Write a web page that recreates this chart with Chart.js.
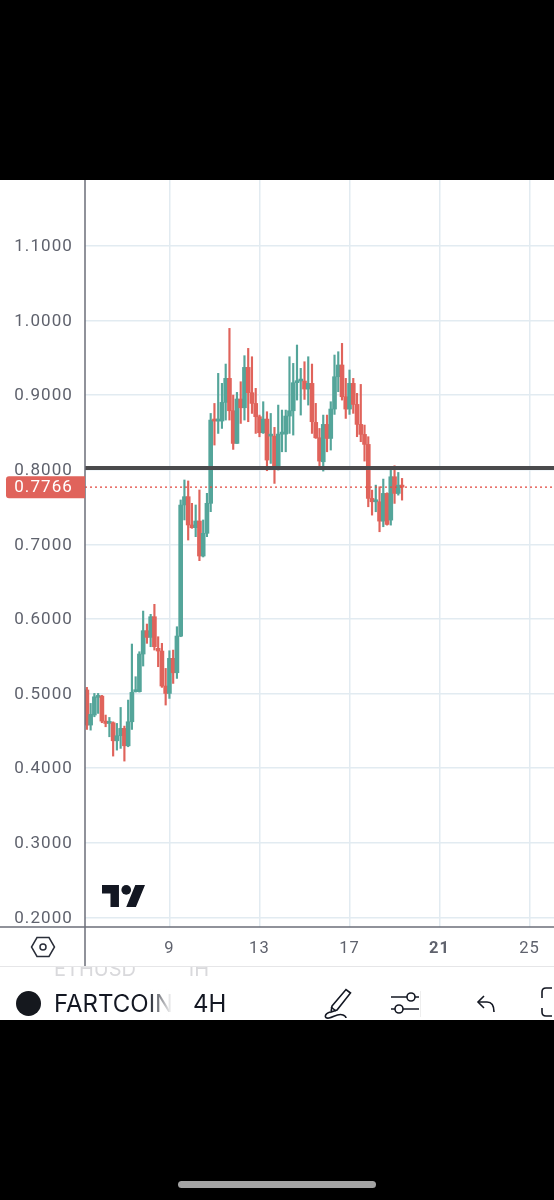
<!DOCTYPE html>
<html>
<head>
<meta charset="utf-8">
<title>FARTCOIN 4H</title>
<script src="https://cdn.jsdelivr.net/npm/chart.js@4"></script>
<style>
html, body { margin: 0; padding: 0; background: #000; }
body { width: 554px; height: 1200px; position: relative; overflow: hidden; font-family: Inter, sans-serif; }
#panel { position: absolute; left: 0; top: 180px; width: 554px; height: 840px; background: #fff; overflow: hidden; }
#chart { position: absolute; left: 0; top: 0; }
#logo { position: absolute; left: 102px; top: 705px; }
#gear { position: absolute; left: 30px; top: 754px; }
#sep { position: absolute; left: 0; top: 786px; width: 554px; height: 1px; background: #e6e6e8; }
#ghost { position: absolute; left: 0; top: 787px; width: 554px; height: 11px; overflow: hidden; color: #d9d9dc; font-size: 20px; line-height: 20px; }
#ghost span { position: absolute; top: -8px; }
.bar-text { position: absolute; top: 811px; font-size: 24px; line-height: 26px; color: #131722; white-space: nowrap; }
#fade { position: absolute; left: 148px; top: 808px; width: 24px; height: 30px; background: linear-gradient(to right, rgba(255,255,255,0), #fff); }
#coin { position: absolute; left: 16px; top: 811px; width: 25px; height: 25px; border-radius: 50%; background: #15181e; }
.icon { position: absolute; }
#pill { position: absolute; left: 178px; top: 1181px; width: 198px; height: 7px; border-radius: 4px; background: #a3a3a3; }
</style>
</head>
<body>
<div id="panel">
  <canvas id="chart" width="554" height="786"></canvas>
  <svg id="logo" width="43" height="22" viewBox="0 4 35.5 18"><path d="M14 22H7V11H0V4h14v18zM28 22h-8l7.5-18h8L28 22z" fill="#131722"/><circle cx="20" cy="8" r="4" fill="#131722"/></svg>
  <svg id="gear" width="26" height="26" viewBox="0 0 26 26" fill="none" stroke="#2a2e39" stroke-width="1.5"><path d="M7 3.5h12l5.5 9.5-5.5 9.5H7L1.5 13z"/><circle cx="13" cy="13" r="3"/></svg>
  <div id="sep"></div>
  <div id="ghost"><span style="left:54px">ETHUSD</span><span style="left:186px">1H</span></div>
  <div id="coin"></div>
  <div class="bar-text" style="left:54px">FARTCOIN</div>
  <div id="fade"></div>
  <div class="bar-text" style="left:193px">4H</div>
  <svg class="icon" style="left:322px;top:806px" width="34" height="34" viewBox="0 0 34 34" fill="none" stroke="#131722" stroke-width="1.6"><path d="M10 20 24 3.5l4.5 3.5L15 24l-6 2z"/><path d="M9 21l5 4"/><path d="M8 26c-6 2-6 7-1 6 5-1 9-5 14-3 2 .8 3 2 3 3"/></svg>
  <svg class="icon" style="left:389px;top:809px" width="32" height="28" viewBox="0 0 32 28" fill="none" stroke="#131722" stroke-width="1.6"><path d="M2 8h16M26 8h4M2 20h4M14 20h16"/><circle cx="22" cy="8" r="4"/><circle cx="10" cy="20" r="4"/></svg>
  <div style="position:absolute;left:420px;top:811px;width:1px;height:26px;background:#eee"></div>
  <svg class="icon" style="left:476px;top:813px" width="22" height="22" viewBox="0 0 22 22" fill="none" stroke="#131722" stroke-width="1.6"><path d="M8 3 2 9l6 6"/><path d="M2 9h9c5 0 7 4 7 10"/></svg>
  <svg class="icon" style="left:536px;top:806px" width="18" height="32" viewBox="0 0 18 32" fill="none" stroke="#131722" stroke-width="1.6"><path d="M16 2h-6c-3 0-4 2-4 4v6M6 22v4c0 2 1 4 4 4h6"/></svg>
</div>
<div id="pill"></div>
<script>
const slotCount = 125;
const tickSlots = [22, 46, 70, 94, 118];
const tickLabels = ['9', '13', '17', '21', '25'];

const opens = [0.5047, 0.4577, 0.4711, 0.4948, 0.4965, 0.4630, 0.4599, 0.4608, 0.4366, 0.4434, 0.4532, 0.4299, 0.4621, 0.5024, 0.5024, 0.5529, 0.5842, 0.5752, 0.6029, 0.5605, 0.5569, 0.5100, 0.5001, 0.5471, 0.5278, 0.5770, 0.7527, 0.7638, 0.7259, 0.7223, 0.7312, 0.6843, 0.7147, 0.7549, 0.8661, 0.8652, 0.8652, 0.8902, 0.9224, 0.8790, 0.8352, 0.8947, 0.8830, 0.9371, 0.9032, 0.8888, 0.8710, 0.8495, 0.8678, 0.8450, 0.8450, 0.8017, 0.8477, 0.8477, 0.8719, 0.8790, 0.9166, 0.9188, 0.9188, 0.9081, 0.9157, 0.8634, 0.8428, 0.8106, 0.8607, 0.8419, 0.8813, 0.9246, 0.9403, 0.8978, 0.8813, 0.9157, 0.8875, 0.8607, 0.8473, 0.8339, 0.7615, 0.7570, 0.7570, 0.7311, 0.7682, 0.7324, 0.7905, 0.7682, 0.7793];
const closes = [0.4577, 0.4720, 0.4956, 0.4956, 0.4630, 0.4599, 0.4608, 0.4366, 0.4434, 0.4532, 0.4299, 0.4621, 0.5015, 0.5032, 0.5529, 0.5842, 0.5752, 0.6029, 0.5627, 0.5569, 0.5100, 0.5001, 0.5471, 0.5278, 0.5770, 0.7527, 0.7638, 0.7259, 0.7223, 0.7312, 0.6843, 0.7147, 0.7549, 0.8665, 0.8652, 0.8661, 0.8902, 0.9224, 0.8790, 0.8352, 0.8947, 0.8830, 0.9371, 0.9032, 0.8888, 0.8710, 0.8495, 0.8678, 0.8129, 0.8455, 0.8017, 0.8477, 0.8486, 0.8719, 0.8790, 0.9166, 0.9188, 0.9192, 0.9081, 0.9157, 0.8643, 0.8428, 0.8115, 0.8607, 0.8419, 0.8813, 0.9246, 0.9403, 0.8978, 0.8813, 0.9157, 0.8875, 0.8607, 0.8473, 0.8339, 0.7615, 0.7570, 0.7575, 0.7311, 0.7682, 0.7266, 0.7905, 0.7682, 0.7793, 0.7766];
const highs = [0.5082, 0.4867, 0.5001, 0.5001, 0.4975, 0.4711, 0.4679, 0.4620, 0.4599, 0.4813, 0.4563, 0.4912, 0.5663, 0.5225, 0.5560, 0.6105, 0.5931, 0.6061, 0.6195, 0.5761, 0.5672, 0.5336, 0.5573, 0.5582, 0.5895, 0.7594, 0.7862, 0.7849, 0.7549, 0.7527, 0.7728, 0.7326, 0.7683, 0.8754, 0.8888, 0.9291, 0.9157, 0.9416, 0.9894, 0.9000, 0.9036, 0.9179, 0.9528, 0.9626, 0.9514, 0.9090, 0.8732, 0.8911, 0.8777, 0.8754, 0.8567, 0.8866, 0.8799, 0.8799, 0.9514, 0.9425, 0.9671, 0.9358, 0.9447, 0.9514, 0.9416, 0.8889, 0.8553, 0.8732, 0.8732, 0.8911, 0.9537, 0.9581, 0.9693, 0.9224, 0.9336, 0.9224, 0.9023, 0.9143, 0.8598, 0.8442, 0.7726, 0.7793, 0.7771, 0.7874, 0.7690, 0.8017, 0.8053, 0.7963, 0.7883];
const lows = [0.4518, 0.4509, 0.4688, 0.4733, 0.4608, 0.4554, 0.4420, 0.4161, 0.4241, 0.4264, 0.4094, 0.4286, 0.4518, 0.5019, 0.5019, 0.5368, 0.5672, 0.5627, 0.5582, 0.5359, 0.5082, 0.4845, 0.4934, 0.5135, 0.5202, 0.5761, 0.7326, 0.7057, 0.7214, 0.7102, 0.6780, 0.6830, 0.7102, 0.7437, 0.8330, 0.8486, 0.8553, 0.8665, 0.8665, 0.8272, 0.8352, 0.8620, 0.8665, 0.8643, 0.8754, 0.8486, 0.8441, 0.8486, 0.7986, 0.8084, 0.7816, 0.7995, 0.8240, 0.8240, 0.8486, 0.8464, 0.8933, 0.8732, 0.8942, 0.8866, 0.8486, 0.8419, 0.8039, 0.7981, 0.8240, 0.8263, 0.8741, 0.9045, 0.8933, 0.8687, 0.8741, 0.8755, 0.8442, 0.8375, 0.8115, 0.7503, 0.7391, 0.7436, 0.7168, 0.7235, 0.7257, 0.7257, 0.7548, 0.7659, 0.7592];

const levelPrice = 0.8023;
const lastPrice = 0.7766;

const upColor = '#54a59a';
const downColor = '#e0635b';
const gridColor = '#e2ebf1';
const axisColor = '#6c6f7a';
const textColor = '#5f626d';

const slotLabels = Array(slotCount).fill('');
tickSlots.forEach((s, i) => { slotLabels[s] = tickLabels[i]; });

const candleColors = opens.map((o, i) => closes[i] >= o ? upColor : downColor);

// horizontal level, last price tag and the two axis rules
const overlayPlugin = {
    id: 'overlay',
    beforeDraw(chart) {
        chart.ctx.letterSpacing = '1.1px';
    },
    afterDatasetsDraw(chart) {
        const ctx = chart.ctx;
        const area = chart.chartArea;
        const y = chart.scales.y;
        const lastY = y.getPixelForValue(lastPrice);

        ctx.save();
        ctx.strokeStyle = '#e2453c';
        ctx.lineWidth = 1.3;
        ctx.setLineDash([2, 3]);
        ctx.beginPath();
        ctx.moveTo(area.left, lastY);
        ctx.lineTo(area.right, lastY);
        ctx.stroke();
        ctx.setLineDash([]);

        ctx.strokeStyle = '#4a4a4c';
        ctx.lineWidth = 4;
        ctx.beginPath();
        ctx.moveTo(area.left, y.getPixelForValue(levelPrice));
        ctx.lineTo(area.right, y.getPixelForValue(levelPrice));
        ctx.stroke();

        ctx.strokeStyle = axisColor;
        ctx.lineWidth = 1.5;
        ctx.beginPath();
        ctx.moveTo(area.left, 0);
        ctx.lineTo(area.left, chart.height);
        ctx.moveTo(0, area.bottom);
        ctx.lineTo(area.right, area.bottom);
        ctx.stroke();

        ctx.fillStyle = downColor;
        ctx.beginPath();
        ctx.roundRect(6, lastY - 11, area.left - 6, 22, [3, 0, 0, 3]);
        ctx.fill();
        ctx.fillStyle = '#fff';
        ctx.font = '17px Roboto';
        ctx.textAlign = 'right';
        ctx.textBaseline = 'middle';
        ctx.fillText(lastPrice.toFixed(4), 73, lastY + 1);
        ctx.restore();
    }
};

new Chart(document.getElementById('chart').getContext('2d'), {
    type: 'bar',
    data: {
        labels: slotLabels,
        datasets: [
            {
                label: 'Body',
                data: opens.map((o, i) => [o, closes[i]]),
                backgroundColor: candleColors,
                barThickness: 4,
                minBarLength: 2,
                grouped: false
            },
            {
                label: 'Wick',
                data: lows.map((l, i) => [l, highs[i]]),
                backgroundColor: candleColors,
                barThickness: 1.5,
                grouped: false
            }
        ]
    },
    options: {
        responsive: false,
        animation: false,
        layout: { padding: 0 },
        plugins: { legend: { display: false }, tooltip: { enabled: false } },
        scales: {
            x: {
                offset: true,
                afterFit(scale) {
                    scale.height = 39;
                    scale.paddingLeft = 0;
                    scale.paddingRight = 0;
                },
                border: { display: false },
                grid: {
                    offset: false,
                    drawTicks: false,
                    lineWidth: 1.5,
                    color: c => (c.tick && c.tick.label) ? gridColor : 'transparent'
                },
                ticks: {
                    autoSkip: false,
                    maxRotation: 0,
                    padding: 12,
                    color: textColor,
                    font: c => ({ family: 'Roboto', size: 16.5, weight: c.tick && c.tick.label === '21' ? 'bold' : 'normal' })
                }
            },
            y: {
                min: 0.1870,
                max: 1.1883,
                afterFit(scale) {
                    scale.width = 85;
                    scale.paddingTop = 0;
                    scale.paddingBottom = 0;
                },
                border: { display: false },
                grid: { drawTicks: false, lineWidth: 1.5, color: gridColor },
                ticks: {
                    stepSize: 0.1,
                    includeBounds: false,
                    padding: 12,
                    labelOffset: 1,
                    color: textColor,
                    font: { family: 'Roboto', size: 17 },
                    callback: v => v.toFixed(4)
                }
            }
        }
    },
    plugins: [overlayPlugin]
});
</script>
</body>
</html>
